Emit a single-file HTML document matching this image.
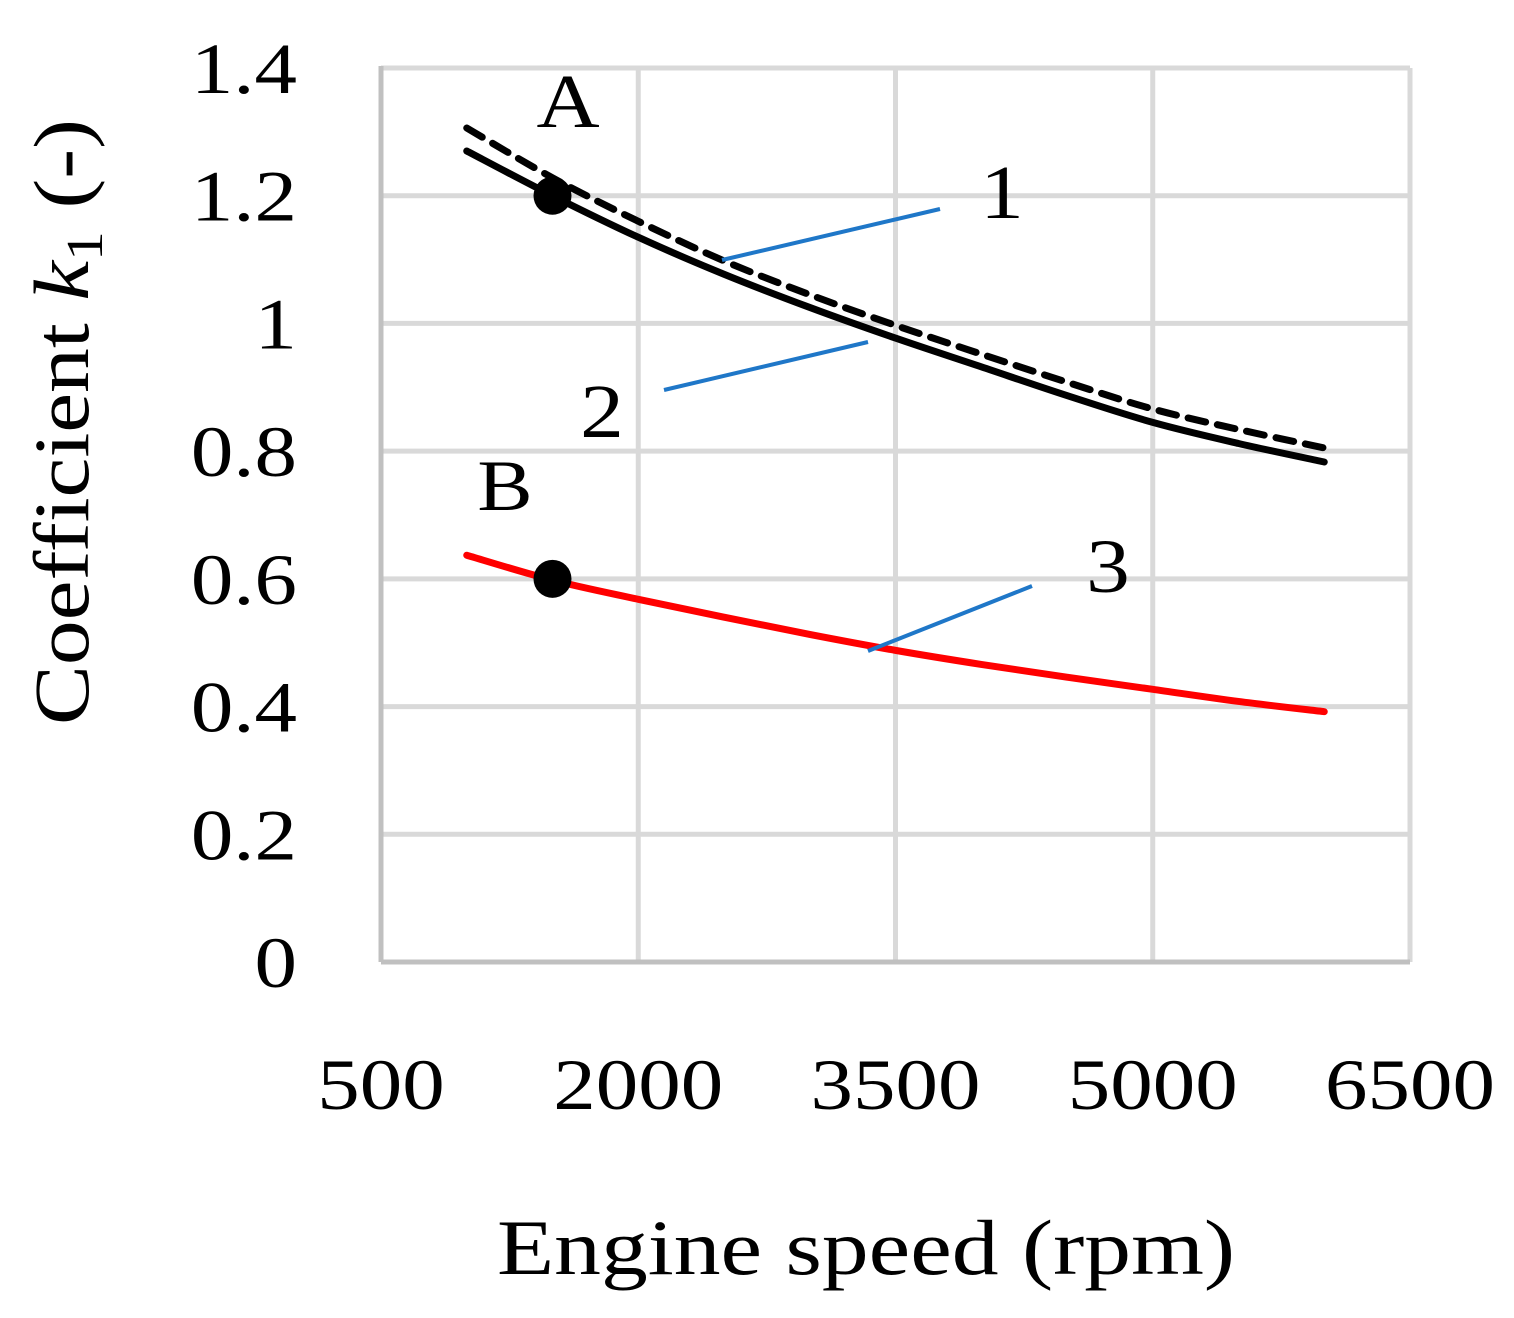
<!DOCTYPE html>
<html><head><meta charset="utf-8"><style>
html,body{margin:0;padding:0;background:#fff}
svg{display:block}
text{font-family:"Liberation Serif",serif;fill:#000}
</style></head><body>
<svg id="chart" width="1514" height="1318" viewBox="0 0 1514 1318" xmlns="http://www.w3.org/2000/svg">
<g id="grid"></g><g id="series"></g><g id="annot"></g>
</svg>
<script>
const rpm = [1000,1500,2000,2500,3000,3500,4000,4500,5000,5500,6000];
const solidK1 = [1.27,1.2,1.135,1.077,1.025,0.977,0.932,0.887,0.845,0.812,0.783];
const dashedK1 = [1.306,1.228,1.16,1.098,1.045,0.997,0.952,0.908,0.866,0.834,0.805];
const redK1 = [0.637,0.598,0.568,0.54,0.513,0.488,0.466,0.446,0.427,0.408,0.392];
const xTicks = [500,2000,3500,5000,6500];
const yTicks = [0,0.2,0.4,0.6,0.8,1,1.2,1.4];
const yTickLabels = ["0","0.2","0.4","0.6","0.8","1","1.2","1.4"];
const points = [{name:"A",rpm:1500,k:1.2},{name:"B",rpm:1500,k:0.6}];

const X0=381,X1=1410,Y0=962,Y1=68;
const sx=v=>X0+(v-500)/6000*(X1-X0);
const sy=v=>Y0-v/1.4*(Y0-Y1);
const NS="http://www.w3.org/2000/svg";
function mk(tag,attrs,parent,txt){const e=document.createElementNS(NS,tag);for(const k in attrs)e.setAttribute(k,attrs[k]);if(txt!==undefined)e.textContent=txt;parent.appendChild(e);return e;}
const grid=document.getElementById('grid'),ser=document.getElementById('series'),ann=document.getElementById('annot');

yTicks.forEach((t,i)=>{
  if(t>0){const l=mk('line',{x1:X0,x2:X1,y1:sy(t),y2:sy(t),stroke:'#d9d9d9','stroke-width':5},grid);
  
  }
  const tx=mk('text',{x:0,y:0,'text-anchor':'end','font-size':72,transform:`translate(297,${sy(t)+25}) scale(1.18,1)`},grid,yTickLabels[i]);
  
  
});
xTicks.forEach(t=>{
  if(t>500){const l=mk('line',{x1:sx(t),x2:sx(t),y1:Y1,y2:Y0,stroke:'#d9d9d9','stroke-width':5},grid);
  
  }
  const tx=mk('text',{x:0,y:0,'text-anchor':'middle','font-size':72,transform:`translate(${sx(t)},1109) scale(1.18,1)`},grid,String(t));
  
  
});
const ya=mk('line',{x1:X0,x2:X0,y1:Y1-2,y2:Y0,stroke:'#c0c0c0','stroke-width':5},grid);


const xa=mk('line',{x1:X0,x2:X1,y1:Y0,y2:Y0,stroke:'#c0c0c0','stroke-width':5},grid);



function smooth(xs,ys){
  const p=xs.map((x,i)=>[sx(x),sy(ys[i])]);
  let d=`M${p[0][0]},${p[0][1]}`;
  for(let i=0;i<p.length-1;i++){
    const a=p[Math.max(i-1,0)],b=p[i],c=p[i+1],e=p[Math.min(i+2,p.length-1)];
    d+=` C${b[0]+(c[0]-a[0])/6},${b[1]+(c[1]-a[1])/6} ${c[0]-(e[0]-b[0])/6},${c[1]-(e[1]-b[1])/6} ${c[0]},${c[1]}`;
  }
  return d;
}
const s2=mk('path',{d:smooth(rpm,dashedK1),fill:'none',stroke:'#000','stroke-width':7,'stroke-dasharray':'18 12','stroke-linecap':'round'},ser);


const s1=mk('path',{d:smooth(rpm,solidK1),fill:'none',stroke:'#000','stroke-width':7,'stroke-linecap':'round'},ser);


const s3=mk('path',{d:smooth(rpm,redK1),fill:'none',stroke:'#ff0000','stroke-width':7,'stroke-linecap':'round'},ser);



points.forEach(p=>{
  const c=mk('circle',{cx:sx(p.rpm),cy:sy(p.k),r:19,fill:'#000'},ser);
  
  
});

const leaders=[[722,260,940,209],[664,390,868,342],[868,651,1032,586]];
leaders.forEach(l=>{
  const e=mk('line',{x1:l[0],y1:l[1],x2:l[2],y2:l[3],stroke:'#1f77c8','stroke-width':4},ann);
  
  
});
</script>
<svg style="position:absolute;left:0;top:0" width="1514" height="1318">
<text x="0" y="0" transform="translate(568,127) scale(1.15,1)" font-size="76" text-anchor="middle">A</text>
<text x="0" y="0" transform="translate(505,510) scale(1.15,1)" font-size="72" text-anchor="middle">B</text>
<text x="0" y="0" transform="translate(1002,218) scale(1.15,1)" font-size="76" text-anchor="middle">1</text>
<text x="0" y="0" transform="translate(602,437) scale(1.15,1)" font-size="76" text-anchor="middle">2</text>
<text x="0" y="0" transform="translate(1108,592) scale(1.15,1)" font-size="76" text-anchor="middle">3</text>
<text x="0" y="0" transform="translate(866,1274) scale(1.2,1)" font-size="78" text-anchor="middle">Engine speed (rpm)</text>
<text x="0" y="0" transform="translate(88,422) rotate(-90) scale(1.15,1)" font-size="78" text-anchor="middle">Coefficient <tspan font-style="italic">k</tspan><tspan font-size="52" dy="14">1</tspan><tspan dy="-14"> (-)</tspan></text>
</svg>
</body></html>
